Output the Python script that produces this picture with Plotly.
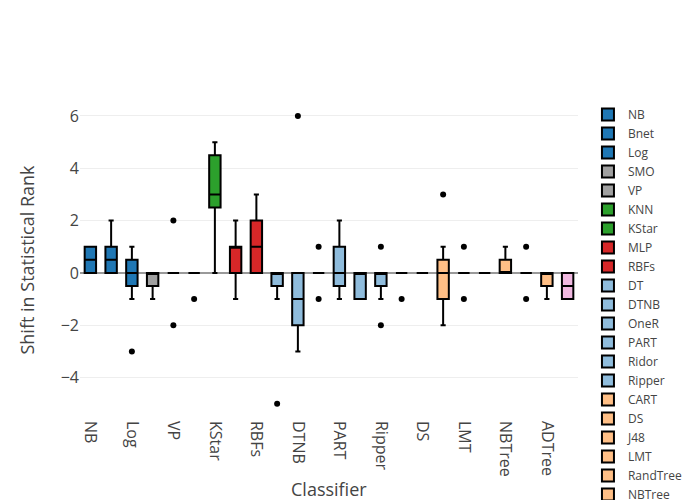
import plotly.graph_objects as go

classifiers = ["NB", "Bnet", "Log", "SMO", "VP", "KNN", "KStar", "MLP", "RBFs",
               "DT", "DTNB", "OneR", "PART", "Ridor", "Ripper",
               "CART", "DS", "J48", "LMT", "RandTree", "NBTree", "REPTree", "ADTree", "RF"]

colors = ["#1f77b4", "#1f77b4", "#1f77b4", "#a0a0a0", "#a0a0a0", "#2ca02c", "#2ca02c",
          "#d62728", "#d62728",
          "#8fbcdc", "#8fbcdc", "#8fbcdc", "#8fbcdc", "#8fbcdc", "#8fbcdc",
          "#ffbf86", "#ffbf86", "#ffbf86", "#ffbf86", "#ffbf86", "#ffbf86", "#ffbf86", "#ffbf86",
          "#f0b8e0"]

q1 =          [0,   0,    -0.5, -0.5, 0,  0,  2.5, 0, 0, -0.5, -2, 0, -0.5, -1, -0.5, 0, 0, -1,  0, 0, 0,   0, -0.5, -1]
median =      [0.5, 0.5,  0,    0,    0,  0,  3,   1, 1, 0,    -1, 0, 0,    0,  0,    0, 0, 0,   0, 0, 0,   0, 0,    -0.5]
q3 =          [1,   1,    0.5,  0,    0,  0,  4.5, 1, 2, 0,    0,  0, 1,    0,  0,    0, 0, 0.5, 0, 0, 0.5, 0, 0,    0]
lowerfence =  [0,   0,    -1,   -1,   0,  0,  0,   -1, 0, -1,  -3, 0, -1,   -1, -1,   0, 0, -2,  0, 0, 0,   0, -1,   -1]
upperfence =  [1,   2,    1,    0,    0,  0,  5,   2, 3, 0,    0,  0, 2,    0,  0,    0, 0, 1,   0, 0, 1,   0, 0,    0]

outliers = {
    "Log": [-3],
    "VP": [2, -2],
    "KNN": [-1],
    "DT": [-5],
    "DTNB": [6],
    "OneR": [1, -1],
    "Ripper": [1, -2],
    "CART": [-1],
    "J48": [3],
    "LMT": [1, -1],
    "REPTree": [1, -1],
}

x_title = "Classifier"
y_title = "Shift in Statistical Rank"

fig = go.Figure()
for i, name in enumerate(classifiers):
    fig.add_trace(go.Box(
        name=name,
        x=[name],
        q1=[q1[i]], median=[median[i]], q3=[q3[i]],
        lowerfence=[lowerfence[i]], upperfence=[upperfence[i]],
        fillcolor=colors[i],
        line=dict(color="black", width=2),
        width=0.55,
        whiskerwidth=0.45,
        boxpoints=False,
    ))

ox, oy = [], []
for name, vals in outliers.items():
    for v in vals:
        ox.append(name)
        oy.append(v)
fig.add_trace(go.Scatter(x=ox, y=oy, mode="markers", showlegend=False,
                         marker=dict(color="black", size=6), hoverinfo="y"))

# page body has an 8px margin: figure is sized/offset so the plot lands where the reference has it
fig.update_layout(
    template="none",
    width=692, height=500,
    margin=dict(l=72, r=122, t=92, b=88, autoexpand=False),
    font=dict(family="Open Sans, verdana, arial, sans-serif", color="#444", size=12),
    paper_bgcolor="white", plot_bgcolor="white",
    legend=dict(font=dict(size=12), x=1.02, y=1, xanchor="left", yanchor="top",
                maxheight=2000),
    xaxis=dict(
        type="category",
        categoryorder="array", categoryarray=classifiers,
        tickvals=classifiers[::2], ticktext=classifiers[::2],
        tickangle=90, tickfont=dict(size=16),
        showgrid=False, zeroline=False, automargin=False,
        range=[-0.5, len(classifiers) - 0.5],
    ),
    yaxis=dict(
        title=dict(text=y_title, font=dict(size=18)),
        tickfont=dict(size=16),
        range=[-5.62, 6.61],
        dtick=2,
        gridcolor="#eee", gridwidth=1,
        zeroline=True, zerolinecolor="#999", zerolinewidth=2,
        automargin=False,
    ),
    annotations=[dict(text=x_title, xref="paper", yref="paper", x=0.5, y=-0.2156,
                      xanchor="center", yanchor="middle", showarrow=False,
                      font=dict(size=18, color="#444"))],
)

fig.write_html("out.html")
